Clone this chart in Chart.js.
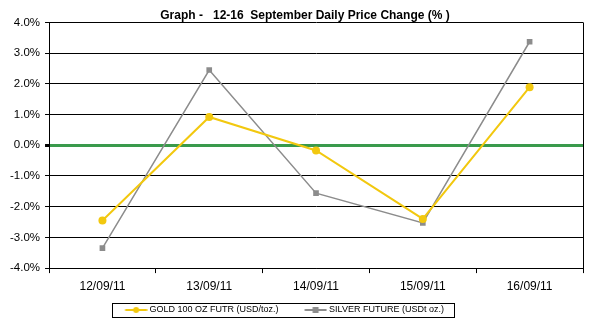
<!DOCTYPE html>
<html>
<head>
<meta charset="utf-8">
<script src="https://cdn.jsdelivr.net/npm/chart.js@4/dist/chart.umd.min.js"></script>
<style>
  body { margin: 0; background: #fff; }
  #wrap { width: 612px; height: 323px; }
</style>
</head>
<body>
<div id="wrap"><canvas id="chart"></canvas></div>
<script>
// values (daily % change)
const days = ['12/09/11', '13/09/11', '14/09/11', '15/09/11', '16/09/11'];
const gold = [-2.45, 0.92, -0.17, -2.40, 1.89];
const silver = [-3.35, 2.45, -1.56, -2.53, 3.37];
const seriesNames = ['GOLD 100 OZ FUTR (USD/toz.)', 'SILVER FUTURE (USDt oz.)'];
const yRange = [-4, 4];

const GOLD = '#f2c80f';
const SILVER = '#8c8c8c';
const GREEN = '#3a9a4c';

Chart.defaults.font.family = '"Liberation Sans", Arial, sans-serif';
Chart.defaults.color = '#000';

// line+marker sample for the legend, drawn in the right half so it sits next to the text
function legendIcon(color, square) {
    const c = document.createElement('canvas');
    c.width = 46;
    c.height = 10;
    const g = c.getContext('2d');
    g.strokeStyle = color;
    g.fillStyle = color;
    g.lineWidth = 2;
    g.beginPath();
    g.moveTo(23.5, 5);
    g.lineTo(45.5, 5);
    g.stroke();
    if (square) {
        g.fillRect(31.5, 2, 6, 6);
    } else {
        g.beginPath();
        g.arc(34.5, 5, 3, 0, Math.PI * 2);
        g.fill();
    }
    return c;
}
const icons = [legendIcon(GOLD, false), legendIcon(SILVER, true)];

const framePlugin = {
    id: 'frame',
    afterLayout(chart) {
        // excel puts the legend a bit left of centre, the title a bit right
        chart.legend.left -= 20;
        chart.legend.right -= 20;
        chart.titleBlock.left += 11;
        chart.titleBlock.right += 11;
    },
    beforeDatasetsDraw(chart) {
        const a = chart.chartArea;
        const ctx = chart.ctx;
        ctx.save();
        ctx.strokeStyle = '#000';
        ctx.lineWidth = 1;
        ctx.beginPath();
        ctx.moveTo(Math.round(a.right) + 0.5, a.top);
        ctx.lineTo(Math.round(a.right) + 0.5, a.bottom);
        ctx.stroke();
        ctx.restore();
    },
    afterDraw(chart) {
        const hb = chart.legend.legendHitBoxes;
        if (!hb || !hb.length) return;
        const last = hb[hb.length - 1];
        const x0 = Math.round(hb[0].left + 8);
        const x1 = Math.round(last.left + last.width + 10);
        const yc = Math.round(hb[0].top + hb[0].height / 2);
        const ctx = chart.ctx;
        ctx.save();
        ctx.strokeStyle = '#000';
        ctx.lineWidth = 1;
        ctx.strokeRect(x0 + 0.5, yc - 7 + 0.5, x1 - x0, 14);
        ctx.restore();
    }
};

new Chart(document.getElementById('chart'), {
    type: 'line',
    data: {
        labels: days,
        datasets: [
            {
                label: seriesNames[0],
                data: gold,
                borderColor: GOLD,
                backgroundColor: GOLD,
                borderWidth: 2,
                pointStyle: 'circle',
                pointRadius: 4,
                pointBorderWidth: 0,
                tension: 0
            },
            {
                label: seriesNames[1],
                data: silver,
                borderColor: SILVER,
                backgroundColor: SILVER,
                borderWidth: 1.5,
                pointStyle: 'rect',
                pointRadius: 4,
                pointBorderWidth: 0,
                tension: 0
            }
        ]
    },
    options: {
        responsive: true,
        maintainAspectRatio: false,
        animation: false,
        layout: {
            padding: { left: 5, right: 29, top: 0, bottom: -1.5 }
        },
        plugins: {
            title: {
                display: true,
                text: 'Graph -   12-16  September Daily Price Change (% )',
                font: { size: 12, weight: 'bold' },
                color: '#000',
                padding: { top: 8, bottom: 0 }
            },
            legend: {
                position: 'bottom',
                labels: {
                    usePointStyle: true,
                    pointStyleWidth: 41,
                    padding: 5,
                    font: { size: 9 },
                    color: '#000',
                    generateLabels: chart => chart.data.datasets.map((ds, i) => ({
                        text: ds.label,
                        pointStyle: icons[i],
                        datasetIndex: i,
                        hidden: false,
                        lineWidth: 0,
                        strokeStyle: 'rgba(0,0,0,0)',
                        fillStyle: 'rgba(0,0,0,0)'
                    }))
                }
            },
            tooltip: { enabled: false }
        },
        scales: {
            x: {
                offset: true,
                grid: {
                    offset: true,
                    drawOnChartArea: false,
                    tickLength: 5,
                    color: '#000'
                },
                border: { color: '#000' },
                ticks: {
                    font: { size: 12 },
                    color: '#000',
                    padding: 6.5,
                    maxRotation: 0
                }
            },
            y: {
                min: yRange[0],
                max: yRange[1],
                grid: {
                    color: ctx => (ctx.tick && ctx.tick.value === 0) ? GREEN : '#000',
                    lineWidth: ctx => (ctx.tick && ctx.tick.value === 0) ? 3 : 1,
                    tickColor: '#000',
                    tickLength: 4
                },
                border: { color: '#000' },
                ticks: {
                    stepSize: 1,
                    font: { size: 11.5 },
                    color: '#000',
                    padding: 5,
                    callback: v => v.toFixed(1) + '%'
                }
            }
        }
    },
    plugins: [framePlugin]
});
</script>
</body>
</html>
